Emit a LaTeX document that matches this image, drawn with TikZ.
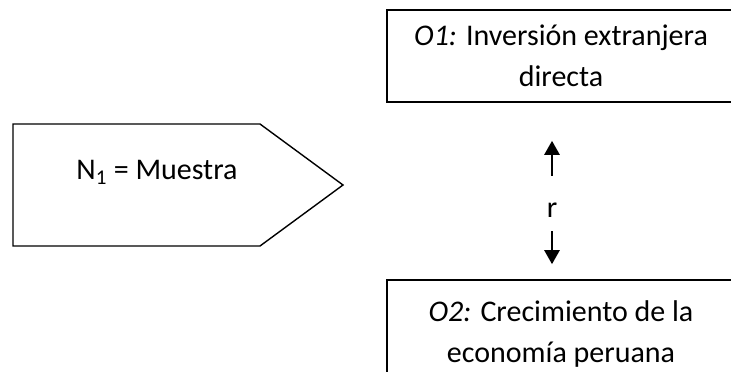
\documentclass[tikz,border=0pt]{standalone}
\usepackage{fontspec}
\setmainfont{Carlito}
\usepackage{tikz}
\usetikzlibrary{arrows.meta}

\begin{document}
\begin{tikzpicture}[x=1pt, y=-1pt, font=\fontsize{30}{41}\selectfont,
    objbox/.style={draw, line width=1.6pt, text centered, align=center, minimum width=348pt, inner sep=0pt},
    relarrow/.style={-{Triangle[length=14pt,width=15pt]}, line width=2.6pt}]

        \useasboundingbox (0,0) rectangle (731,372);
        \clip (0,0) rectangle (731,372);

        % Nodes
        \node (muestra) at (157,172) {N\textsubscript{1} = Muestra};
        \node (oone) [objbox, minimum height=92pt] at (561,56) {\textit{O1:} Inversión extranjera\\directa};
        \node (otwo) [objbox, minimum height=108pt] at (561,334) {\textit{O2:} Crecimiento de la\\economía peruana};
        \node (r) [inner sep=0pt] at (552,210) {r};

        % Pentagon around the sample
        \draw[line width=1.4pt] (13,124) -- (260,124) -- (343,185) -- (260,246) -- (13,246) -- cycle;

        % Arrows
        \draw[relarrow, shorten <=27pt, shorten >=38pt] (r.north) -- (r.north |- oone.south);
        \draw[relarrow, shorten <=14pt, shorten >=15pt] (r.south) -- (r.south |- otwo.north);

    \end{tikzpicture}
\end{document}
